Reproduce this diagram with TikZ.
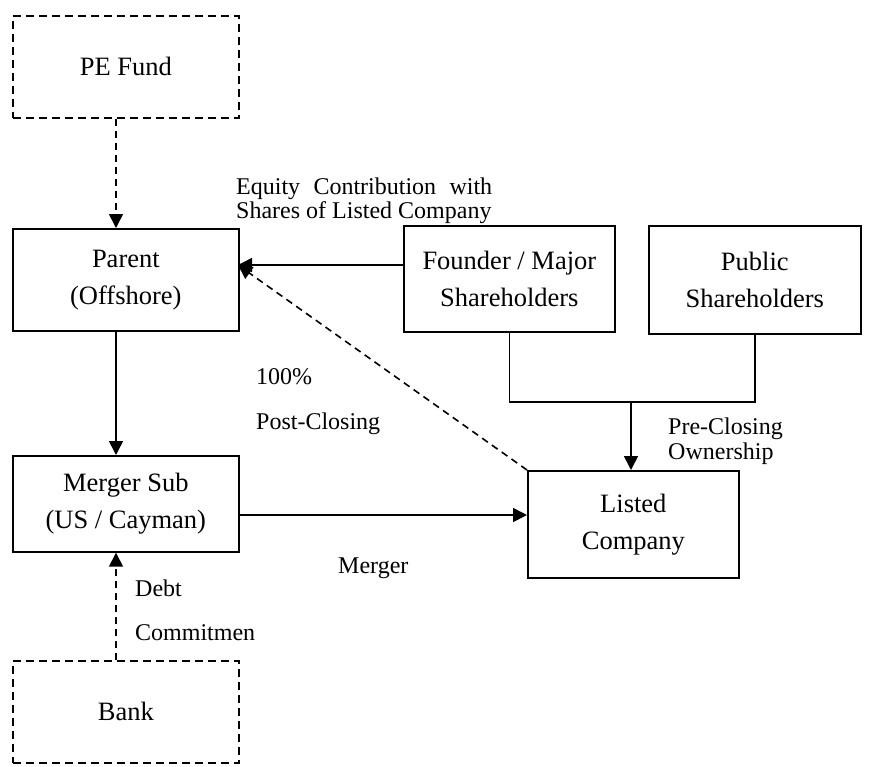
\documentclass[tikz,border=0pt]{standalone}
\usepackage{fontspec}
\setmainfont{Liberation Serif}
\usetikzlibrary{arrows.meta,calc}
\begin{document}
\begin{tikzpicture}[x=1pt,y=-1pt,
  box/.style={draw, line width=1.7pt, anchor=north west, inner sep=0pt, align=center,
    font=\fontsize{26.5}{37}\selectfont},
  dbox/.style={box, dash pattern=on 8pt off 5pt},
  lab/.style={anchor=base west, inner sep=0pt, font=\fontsize{24}{27}\selectfont},
  conn/.style={line width=1.6pt, -{Triangle[length=14pt,width=14pt]}},
  dconn/.style={conn, dash pattern=on 7pt off 5pt},
  link/.style={line width=1.6pt}]
\useasboundingbox (0,0) rectangle (872,766);
% boxes
\node[dbox, minimum width=226pt, minimum height=102pt] (pe) at (12,15) {PE Fund};
\node[box, minimum width=226pt, minimum height=102pt] (parent) at (12,228) {Parent\\(Offshore)};
\node[box, minimum width=211pt, minimum height=106pt] (founder) at (403,225) {Founder / Major\\Shareholders};
\node[box, minimum width=212pt, minimum height=108pt] (public) at (648,225) {Public\\Shareholders};
\node[box, minimum width=226pt, minimum height=96pt] (msub) at (12,455) {Merger Sub\\(US / Cayman)};
\node[box, minimum width=211pt, minimum height=107pt] (listed) at (527,470) {Listed\\Company};
\node[dbox, minimum width=226pt, minimum height=102pt] (bank) at (12,660) {Bank};
% helper coordinates
\coordinate (ax) at (116,0);
\coordinate (pin) at (238,265);
\coordinate (jn) at (631,402);
\coordinate (mg) at (0,515);
% connectors
\draw[dconn] (pe.south -| ax) -- (parent.north -| ax);
\draw[conn] (parent.south -| ax) -- (msub.north -| ax);
\draw[dconn] (bank.north -| ax) -- (msub.south -| ax);
\draw[conn] (founder.west |- pin) -- (pin);
\draw[dconn] (listed.north west) -- (pin);
\draw[link] (founder.south) -- (founder.south |- jn) -- (public.south |- jn) -- (public.south);
\draw[conn] (jn) -- (listed.north -| jn);
\draw[conn] (msub.east |- mg) -- (listed.west |- mg);
% labels
\node[lab] (eq1) at (236,194) {\hbox to 256pt{Equity\hfill Contribution\hfill with}};
\node[lab] (eq2) at (236,218) {Shares of Listed Company};
\node[lab] (pct) at (256,384) {100\%};
\node[lab] (post) at (256,429) {Post-Closing};
\node[lab] (pre) at (668,434) {Pre-Closing};
\node[lab] (own) at (668,459) {Ownership};
\node[lab] (mrg) at (338,573) {Merger};
\node[lab] (debt) at (135,596) {Debt};
\node[lab] (cmt) at (135,640) {Commitmen};
\end{tikzpicture}
\end{document}
